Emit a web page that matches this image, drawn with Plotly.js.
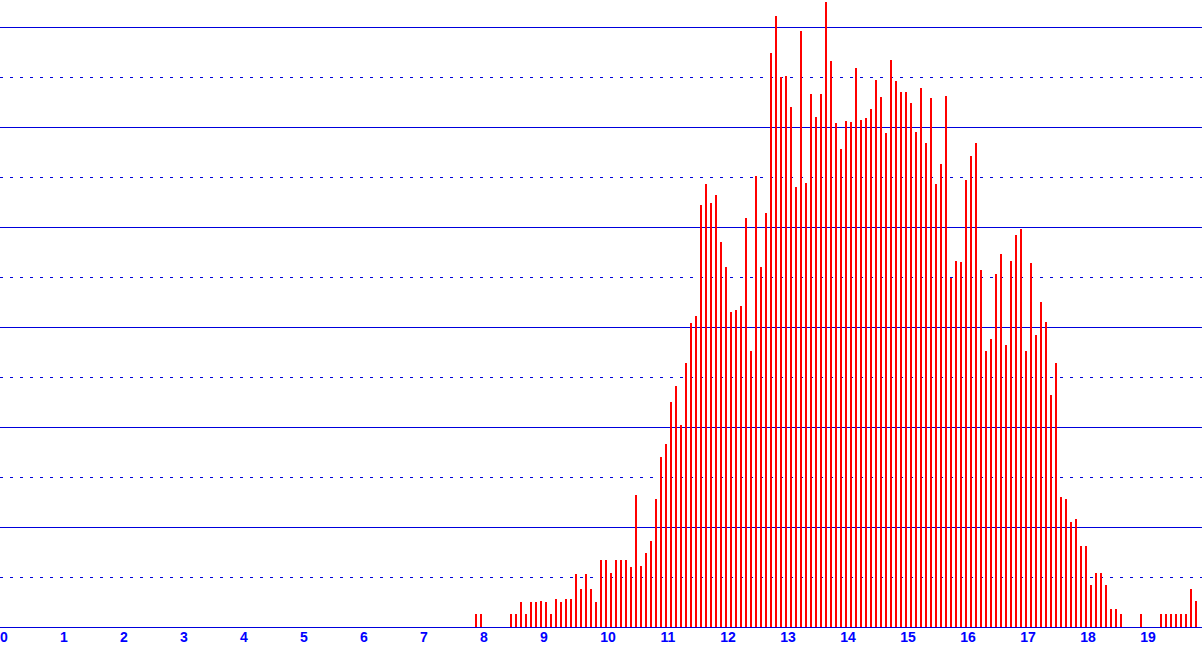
<!DOCTYPE html>
<html>
<head>
<meta charset="utf-8">
<script src="https://cdn.plot.ly/plotly-3.0.1.min.js"></script>
<style>
  html, body { margin: 0; padding: 0; background: #fff; }
  #graph { width: 1202px; height: 647px; }
</style>
</head>
<body>
<div id="graph"></div>
<script>
// one bar per month, the axis counts years
const firstMonth = 95;
const counts = [
    2.6, 2.6, 0, 0, 0, 0, 0, 2.6, 2.6, 5,
    2.6, 5, 5, 5.2, 5, 2.6, 5.6, 5, 5.6, 5.6,
    10.6, 7.6, 10.6, 7.6, 5, 13.4, 13.4, 10.8, 13.4, 13.4,
    13.4, 12, 26.4, 12.2, 14.8, 17.2, 25.6, 34, 36.6, 45,
    48.2, 40.4, 52.8, 60.8, 62.2, 84.4, 88.6, 84.8, 86.4, 77,
    72, 63, 63.4, 64.2, 81.8, 55.2, 90.2, 72, 82.8, 114.8,
    122.2, 110, 110.2, 104, 88, 119.2, 88.8, 106.6, 102, 106.6,
    125, 113.2, 100.8, 95.6, 101.2, 101, 111.8, 101.4, 101.8, 103.6,
    109.4, 106, 98.8, 113.4, 109.2, 107, 107, 104.8, 99, 107.8,
    96.8, 105.8, 88.6, 92.6, 106.2, 69.8, 73.2, 73, 89.4, 94.2,
    96.8, 71.4, 55.2, 57.6, 70.6, 74.6, 56.4, 73.2, 78.4, 79.6,
    55.2, 72.8, 58.4, 65, 61, 46.4, 52.8, 26, 25.6, 21,
    21.6, 16.2, 16.2, 8.4, 10.8, 10.8, 8.4, 3.6, 3.6, 2.6,
    0, 0, 0, 2.6, 0, 0, 0, 2.6, 2.6, 2.6,
    2.6, 2.6, 2.6, 7.6, 5.2
];
// labels sit just right of their tick, so the one- and two-digit
// years go on two overlaid axes with a different shift
const yearTicksA = [0, 1, 2, 3, 4, 5, 6, 7, 8, 9];
const yearLabelsA = ['0', '1', '2', '3', '4', '5', '6', '7', '8', '9'];
const yearTicksB = [10, 11, 12, 13, 14, 15, 16, 17, 18, 19];
const yearLabelsB = ['10', '11', '12', '13', '14', '15', '16', '17', '18', '19'];

const W = 1202, H = 647;
const pxPerYear = 60;
const gridBlue = '#0000dd';
const labelFont = { family: 'Liberation Sans, Arial, sans-serif', size: 14, color: '#0000ff', weight: 'bold' };

const years = counts.map((v, i) => (firstMonth + i) / 12);

const trace = {
    type: 'bar',
    x: years,
    y: counts,
    width: 2 / pxPerYear,
    offset: 0,
    marker: { color: '#ff0000', line: { width: 0 } },
    hoverinfo: 'x+y'
};
// empty trace so the second axis gets drawn
const dummy = { type: 'scatter', x: [], y: [], xaxis: 'x2', yaxis: 'y', hoverinfo: 'skip' };

function yearAxis(vals, text, shift) {
    return {
        range: [0, W / pxPerYear],
        tickmode: 'array',
        tickvals: vals,
        ticktext: text,
        ticks: '',
        ticklabelshift: shift,
        ticklabelstandoff: -3,
        tickfont: labelFont,
        showgrid: false,
        zeroline: false,
        showline: true,
        linecolor: gridBlue,
        linewidth: 1,
        fixedrange: true
    };
}

const layout = {
    width: W,
    height: H,
    margin: { l: 0, r: 0, t: 0, b: 20, pad: 0 },
    paper_bgcolor: '#ffffff',
    plot_bgcolor: '#ffffff',
    showlegend: false,
    bargap: 0,
    xaxis: yearAxis(yearTicksA, yearLabelsA, 4),
    xaxis2: Object.assign(yearAxis(yearTicksB, yearLabelsB, 8), { overlaying: 'x', side: 'bottom', anchor: 'y' }),
    yaxis: {
        range: [0, 125.4],
        tick0: 0,
        dtick: 20,
        showticklabels: false,
        ticks: '',
        showgrid: true,
        gridcolor: gridBlue,
        gridwidth: 1,
        zeroline: false,
        showline: false,
        minor: {
            tick0: 0,
            dtick: 10,
            showgrid: true,
            gridcolor: gridBlue,
            gridwidth: 1,
            griddash: '3px,7px'
        },
        fixedrange: true
    }
};

Plotly.newPlot('graph', [trace, dummy], layout, { displayModeBar: false, staticPlot: true });
</script>
</body>
</html>
